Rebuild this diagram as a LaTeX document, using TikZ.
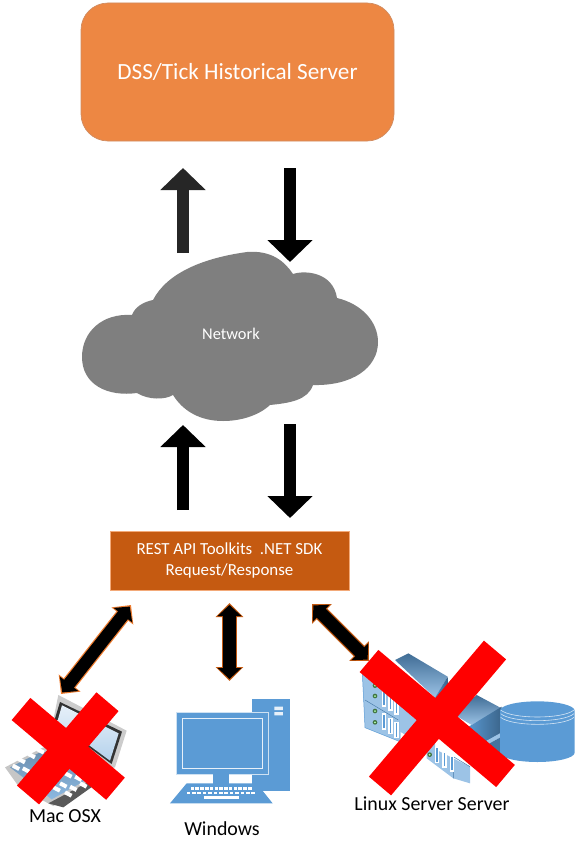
\documentclass[tikz,border=0pt]{standalone}
\usepackage{fontspec}
\setmainfont{Carlito}
\usetikzlibrary{arrows.meta}
\definecolor{srvorange}{HTML}{ED8743}
\definecolor{apibrown}{HTML}{C55A11}
\definecolor{edgeorange}{HTML}{ED7D31}
\definecolor{cloudgray}{HTML}{7F7F7F}
\definecolor{iconblue}{HTML}{5B9BD5}
\definecolor{panelblue}{HTML}{9CC3E6}
\definecolor{xred}{HTML}{FF0000}
\tikzset{
  blockup/.style={line width=12pt,-{Triangle[length=22pt,width=44pt]}},
  outerdbl/.style={line width=15pt,{Triangle[length=14pt,width=27pt]}-{Triangle[length=14pt,width=27pt]}},
  innerdbl/.style={line width=12.5pt,black,shorten >=2pt,shorten <=2pt,{Triangle[length=11pt,width=23pt]}-{Triangle[length=11pt,width=23pt]}},
  crossbar/.style={line width=29pt,xred},
  lighttext/.style={text=white,align=center,inner sep=0pt},
  caption/.style={text=black,font=\fontsize{19.9}{22}\selectfont,inner sep=0pt},
}
\newcommand{\dblconn}[3]{%
  \draw[outerdbl,#3] (#1) -- (#2);
  \draw[innerdbl] (#1) -- (#2);}
\begin{document}
\begin{tikzpicture}[x=1pt,y=-1pt]
\useasboundingbox (0,0) rectangle (581,851);
% Main boxes
\node[draw=srvorange!80!iconblue,fill=srvorange,rounded corners=27pt,minimum width=313pt,minimum height=138pt,inner sep=0pt,line width=0.7pt,lighttext,font=\fontsize{23.2}{27}\selectfont] (server) at (237.5,72) {DSS/Tick Historical Server};
\node[draw=edgeorange!65!white,fill=apibrown,minimum width=239pt,minimum height=59pt,inner sep=0pt,line width=1pt,lighttext,font=\fontsize{16.9}{20.5}\selectfont] (api) at (229.5,560.5) {REST API Toolkits\ \ .NET SDK\\Request/Response};
% Cloud
\fill[cloudgray] (153,300) .. controls (167,273) and (203,258) .. (247,252)
  .. controls (272,250) and (285,262) .. (293,274)
  .. controls (305,270) and (333,272) .. (337,298)
  .. controls (362,304) and (378,322) .. (378,342)
  .. controls (378,368) and (352,386) .. (313,385)
  .. controls (308,400) and (290,403) .. (270,405)
  .. controls (258,416) and (240,421) .. (223,421)
  .. controls (200,421) and (183,411) .. (173,395)
  .. controls (165,400) and (148,400) .. (137,393)
  .. controls (108,397) and (82,385) .. (82,357)
  .. controls (82,332) and (102,313) .. (132,315)
  .. controls (135,307) and (143,302) .. (153,300) -- cycle;
\node[lighttext,font=\fontsize{16.4}{18}\selectfont] (network) at (231,334) {Network};
% Arrow end points
\coordinate (upAfrom) at (183,253); \coordinate (upAto) at (183,168);
\coordinate (dnAfrom) at (290,168); \coordinate (dnAto) at (290,262);
\coordinate (upBfrom) at (183,510); \coordinate (upBto) at (183,425);
\coordinate (dnBfrom) at (290,424); \coordinate (dnBto) at (290,518);
\coordinate (macTop) at (131,605); \coordinate (macEnd) at (61,694);
\coordinate (winTop) at (229.5,603); \coordinate (winEnd) at (229.5,681);
\coordinate (linTop) at (312,604); \coordinate (linEnd) at (369,661);
\draw[blockup,draw={rgb,255:red,38;green,38;blue,38},fill={rgb,255:red,38;green,38;blue,38}] (upAfrom) -- (upAto);
\draw[blockup,black] (dnAfrom) -- (dnAto);
\draw[blockup,black] (upBfrom) -- (upBto);
\draw[blockup,black] (dnBfrom) -- (dnBto);
\dblconn{macTop}{macEnd}{edgeorange}
\dblconn{winTop}{winEnd}{apibrown}
\dblconn{linTop}{linEnd}{apibrown}
% Windows PC (coordinates of a 3x crop)
\begin{scope}[shift={(0,590)},scale=1/3]
  \fill[iconblue] (755,328) rectangle (870,602);
  \fill[white!85!iconblue] (823,350) rectangle (849,360) (823,366) rectangle (849,376);
  \fill[iconblue,draw=white!70!iconblue,line width=0.7pt] (528,367) rectangle (805,552);
  \draw[white!85!iconblue,line width=0.8pt] (546,385) rectangle (788,535);
  \fill[iconblue] (640,552) rectangle (688,582);
  \fill[iconblue] (560,580) -- (770,580) -- (818,640) -- (510,640) -- cycle;
  \foreach \r/\y/\s/\e in {0/592/572/758,1/605/560/770}{
    \foreach \k in {0,1,...,12}{
      \fill[white] ({\s+\k*(\e-\s)/13},\y) rectangle ++(11,7);
    }
  }
  \fill[white] (612,619) rectangle (716,628);
\end{scope}
% Laptop (coordinates of a 3x crop)
\begin{scope}[shift={(0,690)},scale=1/3]
  \fill[gray!40] (175,15) -- (380,122) -- (345,232) -- (250,262) -- (150,140) -- cycle;
  \fill[black!80] (180,36) -- (366,125) -- (335,222) -- (162,95) -- cycle;
  \shade[top color=white!85!iconblue,bottom color=iconblue!45!white] (186,46) -- (356,130) -- (330,212) -- (172,95) -- cycle;
  \fill[gray!45] (15,232) -- (130,172) -- (305,255) -- (160,348) -- (60,295) -- cycle;
  \fill[black!65] (145,340) -- (300,258) -- (302,272) -- (190,352) -- cycle;
  \shade[top color=iconblue!55!gray,bottom color=iconblue!70!white] (30,232) -- (130,182) -- (285,255) -- (155,328) -- cycle;
  \foreach \p in {(65,212),(95,197),(122,183),(48,232),(78,240),(205,255),(235,265),(190,285),(220,295),(250,285),(170,297),(205,312)}{
    \fill[white,rotate around={-28:\p}] \p ++(-11,-6) rectangle ++(22,12);
  }
\end{scope}
% Server rack (coordinates of a 3x crop)
\begin{scope}[shift={(355,645)},scale=1/3]
  \shade[top color=iconblue!70!black,bottom color=panelblue] (300,210) -- (365,150) -- (440,190) -- (350,240) -- cycle;
  \shade[left color=iconblue,right color=iconblue!65!black] (350,240) -- (440,185) -- (440,265) -- (390,290) -- (330,250) -- cycle;
  \fill[panelblue] (390,290) -- (440,262) -- (440,275) -- (395,300) -- cycle;
  \fill[iconblue!75!black] (395,300) -- (440,275) -- (440,350) -- (400,370) -- cycle;
  \shade[top color=iconblue!70!black,bottom color=panelblue] (120,45) -- (160,25) -- (278,95) -- (240,158) -- cycle;
  \shade[left color=iconblue,right color=iconblue!65!black] (240,158) -- (278,95) -- (278,135) -- (225,180) -- cycle;
  \fill[panelblue,draw=iconblue,line width=0.5pt] (22,85) -- (135,165) -- (135,290) -- (30,248) -- cycle;
  \fill[panelblue] (135,170) -- (240,240) -- (240,320) -- (135,260) -- cycle;
  \fill[panelblue] (215,300) -- (345,365) -- (345,415) -- (295,400) -- (215,340) -- cycle;
  \draw[iconblue!80!black,line width=0.5pt] (30,165) -- (130,225);
  \draw[iconblue!80!black,line width=0.5pt] (295,335) -- (345,365) (295,335) -- (295,400);
  \foreach \p in {(60,122),(60,153),(60,198),(60,232),(224,329)}{
    \fill[black!60!green!50!gray] \p circle (7);
    \fill[white!70!green] \p circle (3);
  }
  \foreach \x/\y in {80/135,100/148,118/160,80/205,100/218,118/230,240/305,262/318,284/330}{
    \fill[white] (\x,\y) rectangle ++(13,50);
    \fill[iconblue] (\x+4,\y+5) rectangle ++(5,40);
  }
\end{scope}
% Database (coordinates of a 3x crop)
\begin{scope}[shift={(290,590)},scale=1/3]
  \fill[iconblue] (630,362) arc[start angle=180,end angle=360,x radius=112,y radius=28]
    -- (854,488) arc[start angle=0,end angle=180,x radius=112,y radius=28] -- cycle;
  \foreach \k in {0,11,22}{
    \draw[white!75!iconblue,line width=0.6pt] (632,{360+\k}) .. controls (665,{388+\k}) and (820,{388+\k}) .. (852,{360+\k});
  }
\end{scope}
% Captions
\node[caption] (maclabel) at (65,816) {Mac OSX};
\node[caption] (winlabel) at (222,829) {Windows};
\node[caption] (linlabel) at (432,804) {Linux Server Server};
% Red crosses
\coordinate (mxa) at (21,709); \coordinate (mxb) at (115.5,788.7);
\coordinate (mxc) at (107.5,701.7); \coordinate (mxd) at (28,795);
\coordinate (lxa) at (369,661); \coordinate (lxb) at (505.5,776);
\coordinate (lxc) at (495,650); \coordinate (lxd) at (380,786);
\draw[crossbar] (mxa) -- (mxb);
\draw[crossbar] (mxc) -- (mxd);
\draw[crossbar] (lxa) -- (lxb);
\draw[crossbar] (lxc) -- (lxd);
\end{tikzpicture}
\end{document}
